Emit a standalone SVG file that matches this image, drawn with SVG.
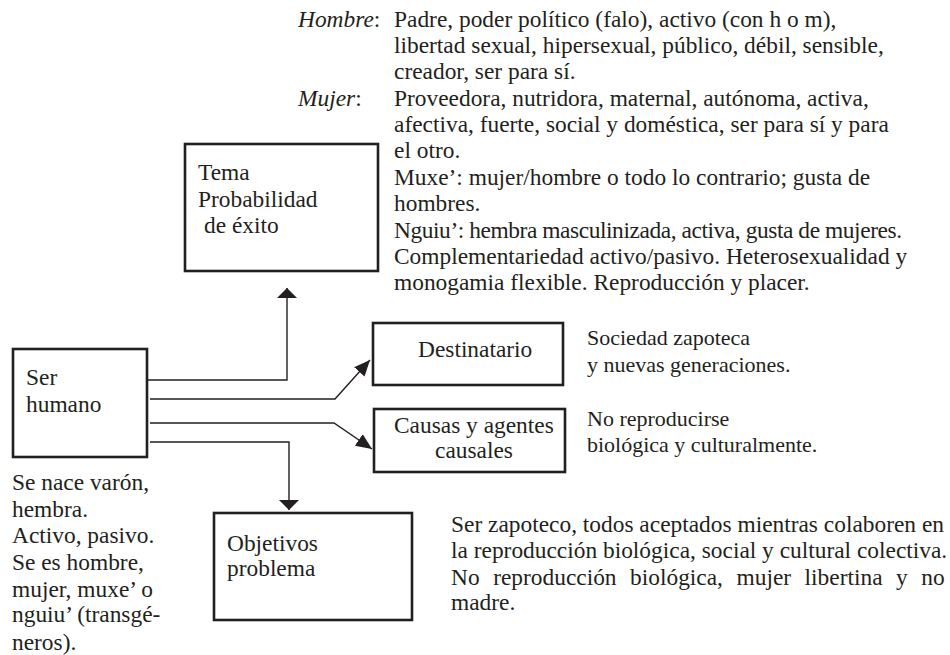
<svg xmlns="http://www.w3.org/2000/svg" width="950" height="655" viewBox="0 0 950 655">
<defs>
<style>
text{font-family:"Liberation Serif","Times New Roman",serif;font-size:23.4px;fill:#231f20}
.it{font-style:italic}
.sm{font-size:22px}
.box{fill:#fff;stroke:#231f20;stroke-width:2.6}
.con{fill:none;stroke:#231f20;stroke-width:1.4}
</style>
<marker id="flat" markerUnits="userSpaceOnUse" markerWidth="12" markerHeight="22" refX="10" refY="10" orient="auto" viewBox="0 0 12 22">
<path d="M0,0 L10,10 L0,20 z" fill="#231f20"/>
</marker>
<marker id="pt" markerUnits="userSpaceOnUse" markerWidth="18" markerHeight="16" refX="16" refY="7" orient="auto" viewBox="0 0 18 16">
<path d="M0,0 L16,7 L0,14 z" fill="#231f20"/>
</marker>
</defs>
<rect width="950" height="655" fill="#fff"/>

<g id="tema">
<rect class="box" x="185" y="144" width="193" height="127"/>
<text x="198" y="180">Tema</text>
<text x="198" y="207">Probabilidad</text>
<text x="204" y="233">de éxito</text>
</g>

<g id="ser-humano">
<rect class="box" x="13" y="349" width="134" height="108"/>
<text x="26" y="385">Ser</text>
<text x="26" y="412">humano</text>
</g>

<g id="destinatario">
<rect class="box" x="373" y="323" width="190" height="62"/>
<text x="418" y="357">Destinatario</text>
</g>

<g id="causas">
<rect class="box" x="374" y="409" width="191" height="63"/>
<text x="394" y="433">Causas y agentes</text>
<text x="435" y="458">causales</text>
</g>

<g id="objetivos">
<rect class="box" x="214" y="513" width="198" height="107"/>
<text x="227" y="551">Objetivos</text>
<text x="227" y="576">problema</text>
</g>

<g id="connectors">
<polyline class="con" points="148,380 287,380 287,288" marker-end="url(#flat)"/>
<polyline class="con" points="150,399 335,399 370,360" marker-end="url(#pt)"/>
<polyline class="con" points="150,423 334,423 372,449" marker-end="url(#pt)"/>
<polyline class="con" points="150,442 289,442 289,510" marker-end="url(#flat)"/>
</g>

<g id="generos">
<text class="it" x="298" y="27">Hombre<tspan font-style="normal">:</tspan></text>
<text x="394" y="27">Padre, poder político (falo), activo (con h o m),</text>
<text x="394" y="53">libertad sexual, hipersexual, público, débil, sensible,</text>
<text x="394" y="79">creador, ser para sí.</text>
<text class="it" x="298" y="106">Mujer<tspan font-style="normal">:</tspan></text>
<text x="394" y="106">Proveedora, nutridora, maternal, autónoma, activa,</text>
<text x="394" y="132">afectiva, fuerte, social y doméstica, ser para sí y para</text>
<text x="394" y="158">el otro.</text>
<text x="394" y="185">Muxe’: mujer/hombre o todo lo contrario; gusta de</text>
<text x="394" y="211">hombres.</text>
<text x="394" y="238" textLength="508" lengthAdjust="spacing">Nguiu’: hembra masculinizada, activa, gusta de mujeres.</text>
<text x="394" y="264">Complementariedad activo/pasivo. Heterosexualidad y</text>
<text x="394" y="290">monogamia flexible. Reproducción y placer.</text>
</g>

<g id="nota-ser">
<text x="12" y="490">Se nace varón,</text>
<text x="12" y="517">hembra.</text>
<text x="12" y="543">Activo, pasivo.</text>
<text x="12" y="570">Se es hombre,</text>
<text x="12" y="597">mujer, muxe’ o</text>
<text x="12" y="622">nguiu’ (transgé-</text>
<text x="12" y="650">neros).</text>
</g>

<g id="nota-destinatario">
<text class="sm" x="587" y="345">Sociedad zapoteca</text>
<text class="sm" x="587" y="372">y nuevas generaciones.</text>
</g>

<g id="nota-causas">
<text class="sm" x="587" y="426">No reproducirse</text>
<text class="sm" x="587" y="452">biológica y culturalmente.</text>
</g>

<g id="nota-objetivos">
<text x="451" y="532">Ser zapoteco, todos aceptados mientras colaboren en</text>
<text x="451" y="558">la reproducción biológica, social y cultural colectiva.</text>
<text x="451" y="585" word-spacing="7.7">No reproducción biológica, mujer libertina y no</text>
<text x="451" y="610">madre.</text>
</g>
</svg>
